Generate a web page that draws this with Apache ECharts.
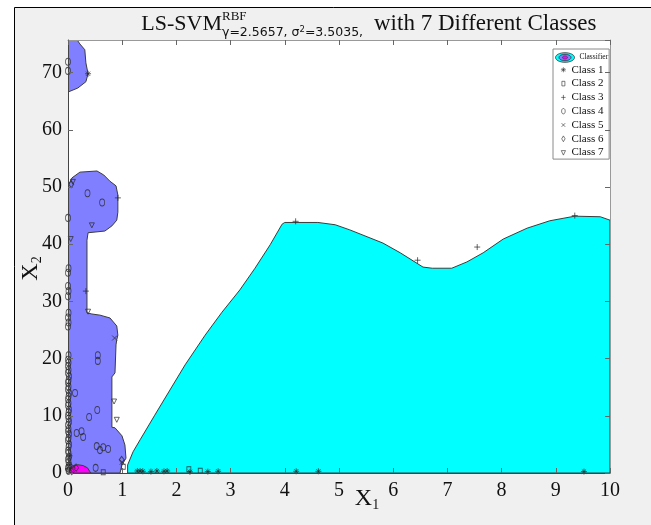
<!DOCTYPE html>
<html><head><meta charset="utf-8">
<script src="https://cdn.jsdelivr.net/npm/echarts@6/dist/echarts.min.js"></script>
<style>html,body{margin:0;padding:0;background:#fff;overflow:hidden}#c{width:651px;height:525px}</style>
</head><body><div id="c"></div>
<script>
// ---- axis ticks ----
const xTicks = [0,1,2,3,4,5,6,7,8,9,10];
const yTicks = [0,10,20,30,40,50,60,70];
const xMax = 10, yMax = 75.7;

// ---- classifier regions (boundary vertices, data coords) ----
const regionCyan = [[1.1,0],[1.1,1.4],[1.2,3.7],[1.33,5.8],[1.6,10.1],[1.88,14.5],[2.16,18.9],[2.53,24.1],[2.84,28.1],[3.17,32.0],[3.45,35.8],[3.73,39.9],[3.95,43.5],[4.0,43.8],[4.61,43.8],[4.93,43.4],[5.2,42.5],[5.81,40.2],[6.13,38.5],[6.55,36.0],[6.72,35.8],[7.08,35.8],[7.36,36.9],[7.66,38.5],[8.03,40.9],[8.47,42.8],[8.89,44.1],[9.35,44.9],[9.82,44.8],[10,44.2],[10,0]];
const regionBlueTop = [[0,75.7],[0.17,75.7],[0.22,75.0],[0.31,74.0],[0.33,71.7],[0.37,69.8],[0.33,68.4],[0.18,67.3],[0,66.6]];
const regionBlueMain = [[0,50.2],[0.074,51.6],[0.22,52.6],[0.535,52.8],[0.66,52.1],[0.775,51.0],[0.886,50.2],[0.92,48.6],[0.92,45.6],[0.9,44.2],[0.81,43.2],[0.68,42.3],[0.37,42.0],[0.35,40.7],[0.35,28.0],[0.44,27.8],[0.59,27.6],[0.775,27.1],[0.9,25.7],[0.92,24.1],[0.9,23.3],[0.886,22.4],[0.867,17.5],[0.81,16.8],[0.81,8.0],[0.867,7.9],[0.996,6.5],[1.05,4.9],[1.07,2.6],[0.996,1.4],[0.96,0],[0,0]];
const regionMagenta = [[0,0],[0.02,0.8],[0.08,1.2],[0.18,1.45],[0.28,1.3],[0.36,0.9],[0.4,0.3],[0.42,0]];

// ---- training samples per class ----
const class1 = [[1.28,0.35],[1.33,0.35],[1.38,0.3],[1.53,0.25],[1.64,0.35],[1.77,0.3],[1.83,0.35],[2.25,0.2],[2.58,0.25],[2.77,0.3],[4.21,0.3],[4.62,0.3],[9.52,0.25],[0.37,69.8],[0.02,1.5],[0.03,3.0]];
const class2 = [[2.23,0.65],[2.44,0.4],[0.65,0.15],[1.02,1.1]];
const class3 = [[4.2,44.0],[6.45,37.2],[7.55,39.5],[9.35,45.0],[0.33,31.8],[0.92,48.1],[0.0,0.8]];
const class4 = [[0.01,0.4],[0.0,0.9],[0.02,1.3],[0.01,1.9],[0.0,2.4],[0.02,2.8],[0.01,3.5],[0.0,3.9],[0.01,4.6],[0.02,5.0],[0.0,5.7],[0.01,6.1],[0.02,6.8],[0.0,7.3],[0.01,7.7],[0.0,8.4],[0.02,8.9],[0.01,9.5],[0.0,10.0],[0.01,10.6],[0.02,11.1],[0.0,11.8],[0.01,12.2],[0.0,12.9],[0.01,13.4],[0.02,14.0],[0.0,14.6],[0.01,15.1],[0.0,15.8],[0.01,16.2],[0.02,16.9],[0.0,17.5],[0.01,18.0],[0.0,18.7],[0.01,19.3],[0.0,19.8],[0.01,20.6],[0.0,25.6],[0.01,26.3],[0.0,27.2],[0.01,28.0],[0.0,30.9],[0.01,31.8],[0.0,32.7],[0.0,35.0],[0.01,35.8],[0.0,44.6],[0.0,70.3],[0.0,71.9],
  [0.55,20.6],[0.55,19.6],[0.13,14.0],[0.54,11.0],[0.39,9.8],[0.16,7.0],[0.25,7.3],[0.28,6.3],[0.53,4.7],[0.59,4.0],[0.65,4.5],[0.74,4.2],[0.51,0.9],[0.36,48.9],[0.63,47.3]];
const class5 = [[0.04,0.6],[0.1,1.2],[0.86,23.6],[1.0,1.9]];
const class6 = [[0.99,2.3],[0.06,50.5],[0.07,0.3],[0.15,0.9]];
const class7 = [[0.37,28.2],[0.85,12.5],[0.9,9.3],[0.09,50.9],[0.44,43.3],[0.05,40.9],[0.0,0.2]];

const regions = [
  {pts: regionCyan, color: '#00ffff'},
  {pts: regionBlueTop, color: '#7f7fff'},
  {pts: regionBlueMain, color: '#7f7fff'},
  {pts: regionMagenta, color: '#ff00ff'}
];

const SERIF = "'Liberation Serif','Times New Roman',serif";
const ink = '#2a2a2a';

const sym = {
  'Class 1': 'path://M5,0V10M0,5H10M1.5,1.5L8.5,8.5M8.5,1.5L1.5,8.5',
  'Class 2': 'rect',
  'Class 3': 'path://M5,0V10M0,5H10',
  'Class 4': 'circle',
  'Class 5': 'path://M0,0L10,10M10,0L0,10',
  'Class 6': 'diamond',
  'Class 7': 'path://M0,0H10L5,10Z'
};
// legend icons: 12x9 box with glyph drawn small near its right side
const legIcon = {
  'Class 1': 'path://M0,0M12,9M9,2V7M6.5,4.5H11.5M7.3,2.8L10.7,6.2M10.7,2.8L7.3,6.2',
  'Class 2': 'path://M0,0M12,9M7.5,2.2H10.5V6.8H7.5Z',
  'Class 3': 'path://M0,0M12,9M9,2V7M6.8,4.5H11.2',
  'Class 4': 'path://M0,0M12,9M9,1.8C10.3,1.8 10.8,3.2 10.8,4.5C10.8,5.8 10.3,7.2 9,7.2C7.7,7.2 7.2,5.8 7.2,4.5C7.2,3.2 7.7,1.8 9,1.8Z',
  'Class 5': 'path://M0,0M12,9M7.2,2.7L10.8,6.3M10.8,2.7L7.2,6.3',
  'Class 6': 'path://M0,0M12,9M9,1.6L10.7,4.5L9,7.4L7.3,4.5Z',
  'Class 7': 'path://M0,0M12,9M6.9,2.5H11.1L9,7Z'
};
const sizes = {'Class 1':6,'Class 2':[4,5],'Class 3':6,'Class 4':[5,7],'Class 5':5,'Class 6':[5,7],'Class 7':5};
const classData = {'Class 1':class1,'Class 2':class2,'Class 3':class3,'Class 4':class4,'Class 5':class5,'Class 6':class6,'Class 7':class7};

const chart = echarts.init(document.getElementById('c'), null, {renderer: 'canvas', width: 651, height: 525});

const scatterSeries = Object.keys(classData).map(name => ({
  name, type: 'scatter', data: classData[name], z: 4,
  symbol: sym[name], symbolSize: sizes[name],
  itemStyle: {color: 'rgba(0,0,0,0)', borderColor: ink, borderWidth: 0.9},
  emphasis: {disabled: true}, animation: false
}));

function axisCommon(extra) {
  return Object.assign({
    type: 'value', z: 10,
    splitLine: {show: false},
    nameMoveOverlap: false,
    axisLine: {show: true, onZero: false, lineStyle: {color: '#444', width: 1}},
    axisTick: {show: true, inside: true, length: 5, lineStyle: {color: '#666'}},
  }, extra);
}

chart.setOption({
  animation: false,
  backgroundColor: '#ffffff',
  grid: {left: 68, right: 41, top: 40, bottom: 52, show: true, backgroundColor: '#ffffff', borderWidth: 0, containLabel: false, outerBoundsMode: 'none'},
  xAxis: [
    axisCommon({min: 0, max: xMax, interval: 1, position: 'bottom',
      axisLabel: {margin: 8, fontFamily: SERIF, fontSize: 20, color: '#111', formatter: v => xTicks.includes(v) ? String(v) : ''},
      name: '{a|X}{b|1}', nameLocation: 'middle', nameGap: 13,
      nameTextStyle: {padding: [0,0,0,56], rich: {a: {fontFamily: SERIF, fontSize: 24, color: '#111'}, b: {fontFamily: SERIF, fontSize: 14, color: '#111', verticalAlign: 'bottom', padding: [12,0,0,0]}}}
    }),
    axisCommon({min: 0, max: xMax, interval: 1, position: 'top', axisLabel: {show: false},
      axisLine: {show: true, onZero: false, lineStyle: {color: '#999'}}})
  ],
  yAxis: [
    axisCommon({min: 0, max: yMax, interval: 10, position: 'left',
      axisLabel: {margin: 6, fontFamily: SERIF, fontSize: 20, color: '#111', showMaxLabel: false, formatter: v => yTicks.includes(v) ? String(v) : ''},
      name: '{a|X}{b|2}', nameLocation: 'middle', nameGap: 24, nameRotate: 90,
      nameTextStyle: {padding: [0,0,0,-24], rich: {a: {fontFamily: SERIF, fontSize: 24, color: '#111'}, b: {fontFamily: SERIF, fontSize: 14, color: '#111', verticalAlign: 'bottom', padding: [12,0,0,0]}}}
    }),
    axisCommon({min: 0, max: yMax, interval: 10, position: 'right', axisLabel: {show: false},
      axisLine: {show: true, onZero: false, lineStyle: {color: '#999'}}})
  ],
  legend: {
    show: true, orient: 'vertical', left: 553, top: 49,
    padding: [4, 1, 1, 1], itemGap: 2.8, itemWidth: 12, itemHeight: 9,
    backgroundColor: '#ffffff', borderColor: '#8a8a8a', borderWidth: 1, borderRadius: 0,
    textStyle: {fontFamily: SERIF, fontSize: 11, color: '#111', rich: {s: {fontFamily: SERIF, fontSize: 7.5, color: '#111', padding: [0,0,0,8], lineHeight: 19}}},
    formatter: n => n === 'Classifier' ? '{s|Classifier}' : n,
    selectedMode: false,
    data: [{name: 'Classifier', icon: 'none'}].concat(Object.keys(classData).map(n => ({name: n, icon: legIcon[n], itemStyle: {color: 'rgba(0,0,0,0)', borderColor: '#333', borderWidth: 0.8}})))
  },
  graphic: [
    {type: 'rect', z: -10, silent: true, shape: {x: 14.5, y: 7.5, width: 660, height: 540}, style: {fill: '#f0f0f0', stroke: '#000', lineWidth: 1}},
    {type: 'text', z: 20, x: 222, y: 24, style: {text: 'LS-SVM', font: '22px ' + SERIF, fill: '#111', align: 'right', verticalAlign: 'middle'}},
    {type: 'text', z: 20, x: 222, y: 16.5, style: {text: 'RBF', font: '13px ' + SERIF, fill: '#111', align: 'left', verticalAlign: 'middle'}},
    {type: 'text', z: 20, x: 222, y: 33, style: {text: '{g|γ=2.5657, σ}{p|2}{g|=3.5035,}', align: 'left', verticalAlign: 'middle',
      rich: {g: {fontFamily: "'DejaVu Sans',sans-serif", fontSize: 12.5, fill: '#111'}, p: {fontFamily: "'DejaVu Sans',sans-serif", fontSize: 8.5, fill: '#111', verticalAlign: 'top', padding: [0,0,6,0]}}}},
    {type: 'text', z: 20, x: 374, y: 24, style: {text: 'with 7 Different Classes', font: '23px ' + SERIF, fill: '#111', align: 'left', verticalAlign: 'middle'}},
    // legend classifier icon (decorative)
    {type: 'group', zlevel: 1, x: 565, y: 57.5, children: [
      {type: 'ellipse', zlevel: 1, shape: {cx: 0, cy: 0, rx: 9.5, ry: 4.8}, style: {fill: '#00ffff', stroke: '#333', lineWidth: 0.8}},
      {type: 'ellipse', zlevel: 1, shape: {cx: 0, cy: 0, rx: 6, ry: 3.2}, style: {fill: '#7f7fff', stroke: '#333', lineWidth: 0.8}},
      {type: 'ellipse', zlevel: 1, shape: {cx: 0, cy: 0, rx: 2.6, ry: 1.6}, style: {fill: '#ff00ff', stroke: '#333', lineWidth: 0.6}}
    ]}
  ],
  series: [
    {
      name: 'Classifier', type: 'custom', z: 1, clip: true,
      data: regions.map((r, i) => [i, 0]),
      renderItem: (params, api) => {
        const r = regions[params.dataIndex];
        return {type: 'polygon', shape: {points: r.pts.map(p => api.coord(p))},
          style: {fill: r.color, stroke: '#3c3c3c', lineWidth: 1}};
      },
      emphasis: {disabled: true}
    }
  ].concat(scatterSeries)
});
</script></body></html>
